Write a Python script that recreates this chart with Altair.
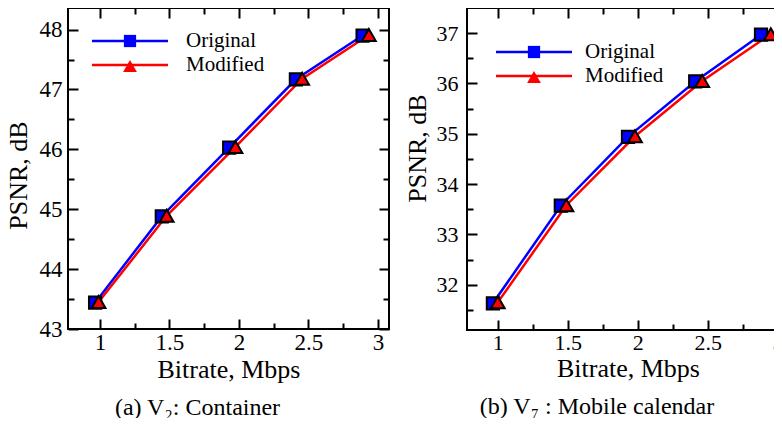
import altair as alt
import pandas as pd

FONT = "Liberation Serif, Times New Roman, Times, serif"
series = ["Original", "Modified"]
colors = ["#0000ff", "#ff0000"]
shapes = ["square", "triangle-up"]
marker_sizes = [150, 190]

# Panel (a): V2 Container
a_orig_x = [0.965, 1.445, 1.93, 2.41, 2.89]
a_orig_y = [43.44, 44.88, 46.03, 47.17, 47.90]
a_mod_x = [0.99, 1.48, 1.975, 2.455, 2.935]
a_mod_y = [43.45, 44.89, 46.04, 47.18, 47.91]

# Panel (b): V7 Mobile calendar
b_orig_x = [0.965, 1.45, 1.93, 2.41, 2.88]
b_orig_y = [31.63, 33.57, 34.94, 36.04, 36.97]
b_mod_x = [1.0, 1.49, 1.98, 2.46, 2.95]
b_mod_y = [31.65, 33.58, 34.95, 36.05, 36.98]

x_major = [1, 1.5, 2, 2.5, 3]
x_minor = [1.25, 1.75, 2.25, 2.75]
a_y_major = [43, 44, 45, 46, 47, 48]
a_y_minor = [43.5, 44.5, 45.5, 46.5, 47.5]
b_y_major = [32, 33, 34, 35, 36, 37]
b_y_minor = [31.5, 32.5, 33.5, 34.5, 35.5, 36.5]

x_title = "Bitrate, Mbps"
y_title = "PSNR, dB"
captions = ["(a) V\u2082: Container", "(b) V\u2087 : Mobile calendar"]


def make_df(ox, oy, mx, my):
    rows = []
    for s, xs, ys in [(series[0], ox, oy), (series[1], mx, my)]:
        for x, y in zip(xs, ys):
            rows.append({"x": x, "y": y, "series": s, "series2": s})
    return pd.DataFrame(rows)


def tick_axis(orient, values, size, **kw):
    return alt.Axis(orient=orient, values=values, tickSize=size, offset=-size,
                    domain=False, grid=False, tickColor="black", tickWidth=2,
                    **kw)


def panel(df, xdom, ydom, ymaj, ymin, w, h, caption, leg_x, leg_y, lab_off,
          ylabpad, ytitle_pad, ytitle_y, lab_size):
    xs = alt.Scale(domain=xdom, nice=False, zero=False)
    ys = alt.Scale(domain=ydom, nice=False, zero=False)
    lab = dict(labelFont=FONT, labelFontSize=lab_size, labelColor="black", format="~g",
               labelFlush=False, labelOverlap=False)
    ttl = dict(titleFont=FONT, titleFontSize=26, titleFontWeight="normal", titleColor="black")

    lines = alt.Chart(df).mark_line(strokeWidth=2.5).encode(
        x=alt.X("x:Q", scale=xs, axis=tick_axis("bottom", x_major, 10, labelPadding=2,
                                                 title=x_title, titlePadding=2, **lab, **ttl)),
        y=alt.Y("y:Q", scale=ys, axis=tick_axis("left", ymaj, 10, labelPadding=ylabpad,
                                                 title=y_title, titlePadding=ytitle_pad,
                                                 titleY=ytitle_y, **lab, **ttl)),
        color=alt.Color("series:N", sort=series, scale=alt.Scale(range=colors),
                        legend=alt.Legend(orient="none", legendX=leg_x, legendY=leg_y,
                                          symbolType="M-4,0H4", symbolSize=361,
                                          symbolStrokeWidth=2.5, title=None, padding=0,
                                          labelFont=FONT, labelFontSize=21, labelColor="black",
                                          labelOffset=lab_off, rowPadding=3)),
    )
    mleg = alt.Legend(orient="none", legendX=leg_x, legendY=leg_y,
                      title=None, padding=0, zindex=2,
                      symbolStrokeColor="black", symbolStrokeWidth=2,
                      labelExpr="''", labelFontSize=22, rowPadding=3)
    points = alt.Chart(df).mark_point(filled=False, stroke="black",
                                      strokeWidth=2, opacity=1).encode(
        x=alt.X("x:Q", scale=xs, axis=None),
        y=alt.Y("y:Q", scale=ys, axis=None),
        fill=alt.Fill("series2:N", scale=alt.Scale(domain=series, range=colors), legend=mleg),
        shape=alt.Shape("series2:N", scale=alt.Scale(domain=series, range=shapes), legend=mleg),
        size=alt.Size("series2:N", scale=alt.Scale(domain=series, range=marker_sizes), legend=mleg),
    )

    def ghost(xaxis, yaxis):
        return alt.Chart(df).mark_point(opacity=0).encode(
            x=alt.X("x:Q", scale=xs, axis=xaxis, title=None),
            y=alt.Y("y:Q", scale=ys, axis=yaxis, title=None),
        )

    g1 = ghost(tick_axis("bottom", x_minor, 6, labels=False),
               tick_axis("left", ymin, 6, labels=False))
    g2 = ghost(tick_axis("top", x_major, 10, labels=False),
               tick_axis("right", ymaj, 10, labels=False))
    g3 = ghost(tick_axis("top", x_minor, 6, labels=False),
               tick_axis("right", ymin, 6, labels=False))

    return alt.layer(lines, g1, g2, g3, points).resolve_axis(
        x="independent", y="independent"
    ).properties(
        width=w, height=h,
        title=alt.TitleParams(text=caption, orient="bottom", anchor="middle",
                              font=FONT, fontSize=24, fontWeight="normal",
                              color="black", offset=14, frame="bounds"),
    )


dfa = make_df(a_orig_x, a_orig_y, a_mod_x, a_mod_y)
dfb = make_df(b_orig_x, b_orig_y, b_mod_x, b_mod_y)

pa = panel(dfa, [0.77, 3.08], [43, 48.36], a_y_major, a_y_minor, 321, 321,
           captions[0], 51, 22, 45, 6, 8, 167, 23)
pb = panel(dfb, [0.78, 3.08], [31.1, 37.5], b_y_major, b_y_minor, 322, 322,
           captions[1], 56, 33, 40, 9, 6, 140, 22)

chart = alt.hconcat(pa, pb, spacing=12).resolve_scale(
    color="independent", fill="independent", shape="independent", size="independent"
).resolve_legend(
    color="independent", fill="independent", shape="independent", size="independent"
).properties(
    autosize=alt.AutoSizeParams(type="none"),
    padding={"left": 60, "top": 0, "right": 706, "bottom": 410},
).configure_view(stroke="black", strokeWidth=2)

chart.save("out.html", embed_options={"renderer": "svg", "actions": False})
